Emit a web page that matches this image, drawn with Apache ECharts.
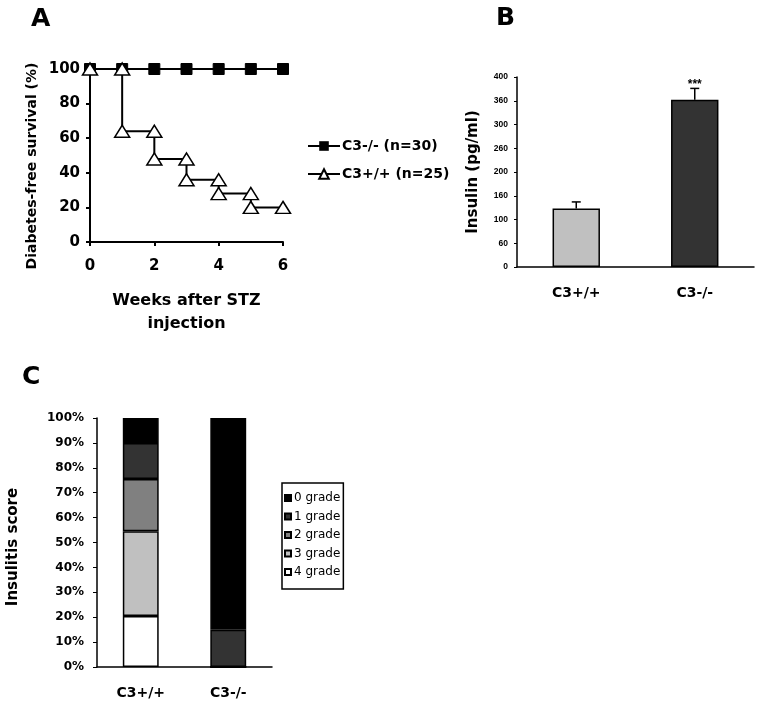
<!DOCTYPE html>
<html>
<head>
<meta charset="utf-8">
<script src="https://cdn.jsdelivr.net/npm/echarts@6/dist/echarts.min.js"></script>
<style>html,body{margin:0;padding:0;background:#fff;}#c{width:759px;height:703px;}</style>
</head>
<body>
<div id="c"></div>
<script>
// Panel A: Kaplan-Meier survival
var weeksKO = [0, 1, 2, 3, 4, 5, 6];
var survKO = [100, 100, 100, 100, 100, 100, 100];
var weeksWT = [0, 1, 1, 2, 2, 3, 3, 4, 4, 5, 5, 6];
var survWT = [100, 100, 64, 64, 48, 48, 36, 36, 28, 28, 20, 20];
var nameKO = 'C3-/- (n=30)';
var nameWT = 'C3+/+ (n=25)';

// Panel B: insulin
var insulinCats = ['C3+/+', 'C3-/-'];
var insulinMean = [123, 352];
var insulinErr = [14, 24];
var insulinSig = ['', '***'];
var insulinColors = ['#c0c0c0', '#333333'];
var insulinTicks = ['0', '60', '100', '160', '200', '260', '300', '360', '400'];

// Panel C: insulitis score (stack bottom to top)
var insulitisCats = ['C3+/+', 'C3-/-'];
var gradeNames = ['4 grade', '3 grade', '2 grade', '1 grade', '0 grade'];
var gradeValues = [
  [20.5, 0],
  [34, 0],
  [21, 0],
  [14.5, 15],
  [10, 85]
];
var gradeColors = ['#ffffff', '#c0c0c0', '#808080', '#333333', '#000000'];
var legendOrder = ['0 grade', '1 grade', '2 grade', '3 grade', '4 grade'];

var F = 'DejaVu Sans, Verdana, sans-serif';
var FA = 'Liberation Sans, Arial, sans-serif';
var axisLineStyle = {color: '#000', width: 2};

function zip(a, b) { return a.map(function (v, i) { return [v, b[i]]; }); }

var chart = echarts.init(document.getElementById('c'));

var series = [
  {
    name: nameKO, type: 'line', xAxisIndex: 0, yAxisIndex: 0,
    data: zip(weeksKO, survKO),
    symbol: 'rect', symbolSize: 11,
    lineStyle: {color: '#000', width: 2},
    itemStyle: {color: '#000', borderColor: '#000'},
    z: 2
  },
  {
    name: nameWT, type: 'line', xAxisIndex: 0, yAxisIndex: 0,
    data: zip(weeksWT, survWT),
    symbol: 'triangle', symbolSize: [15, 12],
    lineStyle: {color: '#000', width: 2},
    itemStyle: {color: '#fff', borderColor: '#000', borderWidth: 1.5},
    z: 3
  },
  {
    type: 'bar', xAxisIndex: 1, yAxisIndex: 1,
    data: insulinMean.map(function (v, i) {
      return {value: v, itemStyle: {color: insulinColors[i]}};
    }),
    barWidth: '40%',
    itemStyle: {borderColor: '#000', borderWidth: 1.5}
  },
  {
    type: 'custom', xAxisIndex: 1, yAxisIndex: 1,
    data: insulinMean.map(function (v, i) { return [i, v, insulinErr[i]]; }),
    renderItem: function (params, api) {
      var i = api.value(0), m = api.value(1), e = api.value(2);
      var p0 = api.coord([i, m]);
      var p1 = api.coord([i, m + e]);
      var hw = 4.5;
      return {
        type: 'group',
        children: [
          {type: 'line', shape: {x1: p0[0], y1: p0[1], x2: p1[0], y2: p1[1]}, style: {stroke: '#000', lineWidth: 1.5}},
          {type: 'line', shape: {x1: p1[0] - hw, y1: p1[1], x2: p1[0] + hw, y2: p1[1]}, style: {stroke: '#000', lineWidth: 1.5}},
          {type: 'text', x: p1[0], y: p1[1] + 2, style: {text: insulinSig[i], textAlign: 'center', textVerticalAlign: 'bottom', font: 'bold 12px ' + FA, fill: '#000'}}
        ]
      };
    },
    z: 5
  }
];

gradeNames.forEach(function (g, k) {
  series.push({
    name: g, type: 'bar', stack: 'ins', xAxisIndex: 2, yAxisIndex: 2,
    data: gradeValues[k],
    barWidth: '41%',
    itemStyle: {color: gradeColors[k], borderColor: '#000', borderWidth: 1.5}
  });
});

var option = {
  backgroundColor: '#fff',
  animation: false,
  textStyle: {fontFamily: F},
  graphic: [
    {type: 'text', left: 31, top: 7, style: {text: 'A', font: 'bold 25px ' + F, fill: '#000'}},
    {type: 'text', left: 496, top: 6, style: {text: 'B', font: 'bold 25px ' + F, fill: '#000'}},
    {type: 'text', left: 22, top: 365, style: {text: 'C', font: 'bold 25px ' + F, fill: '#000'}}
  ],
  legend: [
    {
      data: [nameKO, nameWT], left: 302, top: 134, orient: 'vertical',
      itemWidth: 32, itemHeight: 12, itemGap: 14,
      textStyle: {fontFamily: F, fontWeight: 'bold', fontSize: 14, color: '#000', padding: [0, 0, 0, -3]}
    },
    {
      data: legendOrder,
      left: 282, top: 483, orient: 'vertical',
      icon: 'rect', itemWidth: 6, itemHeight: 6, itemGap: 6.5,
      padding: [9, 3, 11, 2],
      borderColor: '#000', borderWidth: 1.5,
      textStyle: {fontFamily: F, fontSize: 12, lineHeight: 12, color: '#000', padding: [0, 0, 0, -2]}
    }
  ],
  grid: [
    {left: 90, right: 476, top: 69, bottom: 461},
    {left: 517, right: 5, top: 77, bottom: 436},
    {left: 97, right: 487, top: 418, bottom: 36}
  ],
  xAxis: [
    {
      gridIndex: 0, type: 'value', min: 0, max: 6, interval: 2,
      splitLine: {show: false},
      axisLine: {lineStyle: axisLineStyle},
      axisTick: {show: true, length: 4, lineStyle: {color: '#000', width: 2}},
      axisLabel: {fontFamily: F, fontWeight: 'bold', fontSize: 15, color: '#000', margin: 17},
      name: 'Weeks after STZ\ninjection', nameLocation: 'middle', nameGap: 47,
      nameTextStyle: {fontFamily: F, fontWeight: 'bold', fontSize: 16, color: '#000', lineHeight: 23}
    },
    {
      gridIndex: 1, type: 'category', data: insulinCats,
      axisLine: {lineStyle: {color: '#000', width: 1.5}},
      axisTick: {show: false},
      axisLabel: {fontFamily: F, fontWeight: 'bold', fontSize: 14, color: '#000', margin: 19}
    },
    {
      gridIndex: 2, type: 'category', data: insulitisCats,
      axisLine: {lineStyle: {color: '#000', width: 1.5}},
      axisTick: {show: false},
      axisLabel: {fontFamily: F, fontWeight: 'bold', fontSize: 14, color: '#000', margin: 19}
    }
  ],
  yAxis: [
    {
      gridIndex: 0, type: 'value', min: 0, max: 100, interval: 20,
      splitLine: {show: false},
      axisLine: {show: true, lineStyle: axisLineStyle},
      axisTick: {show: true, length: 4, lineStyle: {color: '#000', width: 2}},
      axisLabel: {fontFamily: F, fontWeight: 'bold', fontSize: 15, color: '#000', margin: 10},
      name: 'Diabetes-free survival (%)', nameLocation: 'middle', nameGap: 51,
      nameTextStyle: {fontFamily: F, fontWeight: 'bold', fontSize: 14, color: '#000', padding: [0, 21, 0, 0]}
    },
    {
      gridIndex: 1, type: 'value', min: 0, max: 400, interval: 50,
      splitLine: {show: false},
      axisLine: {show: true, lineStyle: {color: '#000', width: 1.5}},
      axisTick: {show: true, length: 3, lineStyle: {color: '#000', width: 1}},
      axisLabel: {
        fontFamily: FA, fontWeight: 'bold', fontSize: 8.5, color: '#000', margin: 9,
        formatter: function (v) { return insulinTicks[Math.round(v / 50)]; }
      },
      name: 'Insulin (pg/ml)', nameLocation: 'middle', nameGap: 36,
      nameTextStyle: {fontFamily: F, fontWeight: 'bold', fontSize: 15, color: '#000'}
    },
    {
      gridIndex: 2, type: 'value', min: 0, max: 100, interval: 10,
      splitLine: {show: false},
      axisLine: {show: true, lineStyle: {color: '#000', width: 1.5}},
      axisTick: {show: true, length: 4, lineStyle: {color: '#000', width: 1}},
      axisLabel: {fontFamily: F, fontWeight: 'bold', fontSize: 12, color: '#000', margin: 13, formatter: '{value}%'},
      name: 'Insulitis score', nameLocation: 'middle', nameGap: 76,
      nameTextStyle: {fontFamily: F, fontWeight: 'bold', fontSize: 15, color: '#000', padding: [0, 9, 0, 0]}
    }
  ],
  series: series
};
chart.setOption(option);
</script>
</body>
</html>
